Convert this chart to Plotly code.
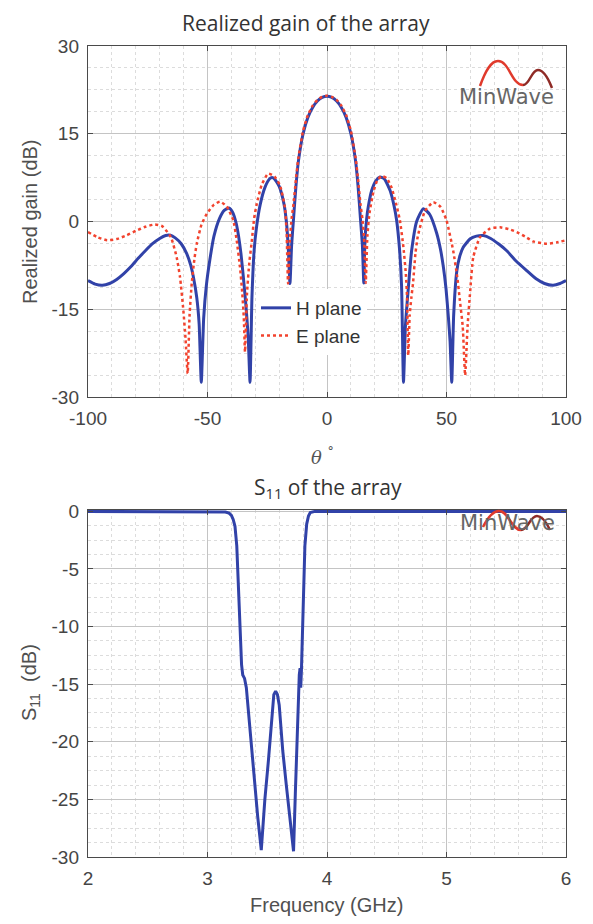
import plotly.graph_objects as go

# ---------------- data ----------------
theta_h = [-100, -97, -94, -91, -88, -85, -82, -79, -76, -73, -70, -67.5, -65.5, -63.5, -61, -58.7, -57, -55.9,
           -54.5, -53.5, -52.6, -51.6, -50.5, -49, -47.3, -45, -43, -41, -39.5, -38, -37, -36, -35, -34, -33,
           -32.2, -31.4, -30.5, -29.5, -28, -26, -24, -23, -22, -20, -18, -17, -16.2, -15.5, -14.8, -14, -13,
           -12, -10, -8, -6, -4, -2, 0, 2, 4, 6, 8, 10, 12, 13, 14, 14.8, 15.4, 15.9, 16.6, 17.3, 18.7, 20.5,
           22.2, 24, 26.4, 28, 29.1, 30.3, 31.2, 32, 32.8, 33.5, 34.5, 35.4, 37.5, 40.3, 43, 45.9, 47.5, 48.7,
           49.8, 50.8, 51.5, 52.2, 53, 54.3, 55.5, 57, 59.8, 62.5, 65.4, 68.5, 72, 75.2, 79, 83.6, 87.5, 91,
           94.6, 97.5, 100]
gain_h = [-10.1, -10.7, -10.9, -10.6, -9.9, -8.9, -7.7, -6.3, -5.0, -3.8, -2.9, -2.4, -2.35, -2.8, -3.8, -5.5,
          -7.5, -9.5, -13, -17.5, -27.5, -16.5, -11, -6.5, -2.5, 0.5, 1.9, 2.3, 1.6, -0.3, -2.5, -5.5, -9.5, -14,
          -19.5, -27.5, -13, -5, -1, 2.8, 5.8, 7.3, 7.5, 7.3, 6.0, 3.0, 0.0, -4.5, -10.6, -4, 0.5, 6.0, 10.2,
          15.0, 17.8, 19.5, 20.6, 21.2, 21.4, 21.2, 20.6, 19.5, 17.8, 15.0, 10.2, 6.0, 0.5, -4, -10.5, -3, 0.5,
          2.6, 5.3, 7.0, 7.6, 7.3, 5.3, 2.8, 0.3, -4.5, -11, -27.5, -18, -14, -9, -5, 0.0, 2.2, 1.2, -2, -4.8,
          -7.8, -11.5, -16.4, -20.5, -27.5, -16, -8.5, -6, -4.4, -3.0, -2.5, -2.4, -2.9, -3.9, -5.0, -6.7, -8.4,
          -9.8, -10.6, -10.9, -10.6, -10.1]

theta_e = [-100, -96, -92, -88, -84, -80, -76, -72, -69, -66, -65, -62.9, -61.5, -60.1, -59.2, -58.3, -57.5,
           -56.6, -55.5, -54.5, -52.5, -50.3, -47.5, -44.8, -42, -39.2, -37.8, -36.4, -35.5, -34.8, -34.3,
           -33.5, -32.5, -31.5, -30.5, -29.4, -27.3, -24.6, -22, -19.7, -17.6, -16.9, -16.3, -15.6, -14.8, -14,
           -13, -12, -10, -8, -6, -4, -2, 0, 2, 4, 6, 8, 10, 12, 13, 14, 14.8, 15.6, 16.2, 16.9, 17.8, 19.5, 21,
           22.9, 25, 27, 28.8, 30.5, 32, 33, 33.5, 34, 34.6, 35.3, 36, 37, 38, 41, 44.5, 47.5, 50, 52.8, 54.5,
           55.6, 56.8, 57.8, 58.8, 59.8, 61.2, 64, 68.2, 72.4, 76, 79.4, 83, 86.2, 92, 96, 100]
gain_e = [-1.8, -2.7, -3.2, -3.0, -2.4, -1.6, -0.9, -0.5, -0.8, -2.2, -3.0, -6.1, -9.5, -15.2, -20, -26, -16,
          -10.6, -6.5, -3.8, -0.5, 1.3, 2.8, 3.4, 2.6, 0.2, -3.2, -7.8, -12, -16.5, -22.3, -12.5, -7, -3.5, 0.5,
          3.0, 6.3, 8.2, 7.7, 6.2, 2.4, -2, -10.6, -3.5, 0.5, 3.0, 7.2, 10.8, 15.5, 18.2, 19.8, 20.8, 21.3, 21.5,
          21.3, 20.8, 19.8, 18.2, 15.5, 10.8, 7.2, 3.0, 0.5, -3.5, -10.5, -2.5, 1.5, 5.2, 7.0, 7.8, 7.4, 5.8,
          3.2, 0.2, -4.5, -9, -13, -22.9, -16, -13, -10.5, -5.5, -2.5, 1.8, 3.3, 2.5, 0.2, -5, -9.5, -13.5,
          -18, -26.3, -18, -12.5, -6.1, -2.7, -1.2, -1.0, -1.3, -1.8, -2.6, -3.4, -3.8, -3.6, -3.2]

freq_ghz = [2.0, 2.5, 3.0, 3.1, 3.15, 3.18, 3.2, 3.215, 3.23, 3.245, 3.26, 3.275, 3.285, 3.295, 3.31, 3.325,
            3.35, 3.39, 3.42, 3.45, 3.48, 3.51, 3.54, 3.555, 3.57, 3.585, 3.60, 3.63, 3.66, 3.69, 3.72, 3.735,
            3.75, 3.76, 3.768, 3.775, 3.78, 3.786, 3.795, 3.805, 3.815, 3.83, 3.845, 3.86, 3.9, 4.5, 5.0, 6.0]
s11_db = [0, 0, 0, -0.02, -0.05, -0.15, -0.35, -0.7, -1.3, -3.0, -6.9, -10.5, -13.3, -14.2, -14.5, -15.3,
          -18.3, -23.0, -26.5, -29.4, -25.0, -21.6, -17.5, -15.9, -15.6, -15.9, -16.8, -20.8, -23.8, -26.5,
          -29.5, -24.5, -19.3, -15.5, -14.2, -13.6, -15.3, -13.8, -10.0, -6.0, -3.0, -1.1, -0.4, -0.1, 0, 0, 0, 0]

gain_ticks = [-30, -15, 0, 15, 30]
gain_tick_labels = ["-30", "-15", "0", "15", "30"]
theta_ticks = [-100, -50, 0, 50, 100]
theta_tick_labels = ["-100", "-50", "0", "50", "100"]
s11_ticks = [-30, -25, -20, -15, -10, -5, 0]
s11_tick_labels = ["-30", "-25", "-20", "-15", "-10", "-5", "0"]
freq_ticks = [2, 3, 4, 5, 6]
freq_tick_labels = ["2", "3", "4", "5", "6"]

# ---------------- layout helpers ----------------
# page body has an 8px margin: figure is placed at (8, 8) in the window
OFF = 8
W, H = 593 - OFF, 924 - OFF
L, R, T, B = 88, 566, 46, 857          # plot area in window pixels
def px(x):
    return (x - L) / (R - L)
def py(y):
    return (B - y) / (B - T)

BLUE = "#3142a8"
RED = "#f2432e"
TICKFONT = dict(family="Liberation Sans, Arial, sans-serif", size=19, color="#454545")
LABFONT = dict(family="Liberation Sans, Arial, sans-serif", size=20, color="#505050")

fig = go.Figure()
fig.add_trace(go.Scatter(x=theta_h, y=gain_h, name="H plane", mode="lines",
                         line=dict(color=BLUE, width=3, shape="spline", smoothing=0.5),
                         xaxis="x", yaxis="y"))
fig.add_trace(go.Scatter(x=theta_e, y=gain_e, name="E plane", mode="lines",
                         line=dict(color=RED, width=2.5, dash="dot", shape="spline", smoothing=0.5),
                         xaxis="x", yaxis="y"))
fig.add_trace(go.Scatter(x=freq_ghz, y=s11_db, name="S11", mode="lines", showlegend=False,
                         line=dict(color=BLUE, width=3),
                         xaxis="x2", yaxis="y2"))

common = dict(showline=True, mirror="ticks", linecolor="#4a4a4a", linewidth=1.4,
              ticks="inside", ticklen=5, tickcolor="#4a4a4a", tickwidth=1,
              showgrid=True, gridcolor="#c4c4c4", gridwidth=1, zeroline=False,
              tickfont=TICKFONT, ticklabelstandoff=4)
MINOR = dict(showgrid=True, gridcolor="#dcdcdc", griddash="dot", ticks="")

fig.update_layout(
    width=W, height=H,
    margin=dict(l=L - OFF, r=W - (R - OFF), t=T - OFF, b=H - (B - OFF)),
    paper_bgcolor="white", plot_bgcolor="white",
    xaxis=dict(domain=[0, 1], anchor="y", range=[-100, 100], tickvals=theta_ticks,
               ticktext=theta_tick_labels, minor=dict(dtick=10, tick0=0, **MINOR), **common),
    yaxis=dict(domain=[py(397), 1], anchor="x", range=[-30, 30], tickvals=gain_ticks,
               ticktext=gain_tick_labels, minor=dict(dtick=3.75, tick0=0, **MINOR), **common),
    xaxis2=dict(domain=[0, 1], anchor="y2", range=[2, 6], tickvals=freq_ticks,
                ticktext=freq_tick_labels, minor=dict(dtick=0.2, tick0=2, **MINOR), **common),
    yaxis2=dict(domain=[0, py(510)], anchor="x2", range=[-30, 0.12], tickvals=s11_ticks,
                ticktext=s11_tick_labels, minor=dict(dtick=1.25, tick0=0, **MINOR), **common),
    legend=dict(x=px(256), y=py(289), xanchor="left", yanchor="top", bgcolor="white",
                borderwidth=0, font=dict(family="Liberation Sans, Arial, sans-serif", size=19, color="#333"),
                tracegroupgap=0, itemwidth=30),
    showlegend=True,
)

ann = []
TITLEFONT = dict(family="Open Sans, Noto Sans, sans-serif", size=21, color="#333")
ann.append(dict(text="Realized gain of the array", x=px(306), y=py(23), xref="paper", yref="paper",
                showarrow=False, xanchor="center", yanchor="middle", font=TITLEFONT))
ann.append(dict(text="S<sub>11</sub> of the array", x=px(328), y=py(488), xref="paper", yref="paper",
                showarrow=False, xanchor="center", yanchor="middle", font=TITLEFONT))
ann.append(dict(text="Realized gain (dB)", x=px(30), y=py(222), xref="paper", yref="paper", textangle=-90,
                showarrow=False, xanchor="center", yanchor="middle", font=LABFONT))
ann.append(dict(text="<i>θ</i> <sup>°</sup>", x=px(322), y=py(456), xref="paper", yref="paper",
                showarrow=False, xanchor="center", yanchor="middle",
                font=dict(family="DejaVu Serif, serif", size=18, color="#555")))
ann.append(dict(text="S<sub>11</sub>  (dB)", x=px(30), y=py(683), xref="paper", yref="paper", textangle=-90,
                showarrow=False, xanchor="center", yanchor="middle", font=LABFONT))
ann.append(dict(text="Frequency (GHz)", x=px(326), y=py(905), xref="paper", yref="paper",
                showarrow=False, xanchor="center", yanchor="middle", font=LABFONT))
LOGOFONT = dict(family="DejaVu Sans, sans-serif", size=21, color="#666")
ann.append(dict(text="MinWave", x=px(506), y=py(97), xref="paper", yref="paper",
                showarrow=False, xanchor="center", yanchor="middle", font=LOGOFONT))
ann.append(dict(text="MinWave", x=px(507), y=py(523), xref="paper", yref="paper",
                showarrow=False, xanchor="center", yanchor="middle", font=LOGOFONT))
fig.update_layout(annotations=ann)

# logo waves (decorative)
def wave_paths(pts):
    (a, p1, t, p2, e) = pts
    def P(p):
        return f"{px(p[0]):.5f},{py(p[1]):.5f}"
    def seg_in(A, Bp):
        dx, dy = Bp[0] - A[0], Bp[1] - A[1]
        return f"C {P((A[0] + 0.3 * dx, A[1] + 0.6 * dy))} {P((Bp[0] - 0.4 * dx, Bp[1]))} {P(Bp)}"
    def seg_mid(A, Bp):
        dx = Bp[0] - A[0]
        return f"C {P((A[0] + 0.45 * dx, A[1]))} {P((Bp[0] - 0.45 * dx, Bp[1]))} {P(Bp)}"
    def seg_out(A, Bp):
        dx, dy = Bp[0] - A[0], Bp[1] - A[1]
        return f"C {P((A[0] + 0.4 * dx, A[1]))} {P((Bp[0] - 0.3 * dx, Bp[1] - 0.6 * dy))} {P(Bp)}"
    first = f"M {P(a)} {seg_in(a, p1)} {seg_mid(p1, t)}"
    second = f"M {P(t)} {seg_mid(t, p2)} {seg_out(p2, e)}"
    return first, second

shapes = []
for pts in ([(480, 86), (498, 61), (523, 85), (538, 70), (552, 88)],
            [(483, 527), (499, 511), (521, 530), (537, 516), (550, 530)]):
    f1, f2 = wave_paths(pts)
    shapes.append(dict(type="path", path=f1, xref="paper", yref="paper",
                       line=dict(color="#e03a2c", width=2.5), layer="above"))
    shapes.append(dict(type="path", path=f2, xref="paper", yref="paper",
                       line=dict(color="#8f2b26", width=2.5), layer="above"))
fig.update_layout(shapes=shapes)

fig.write_html("out.html")
